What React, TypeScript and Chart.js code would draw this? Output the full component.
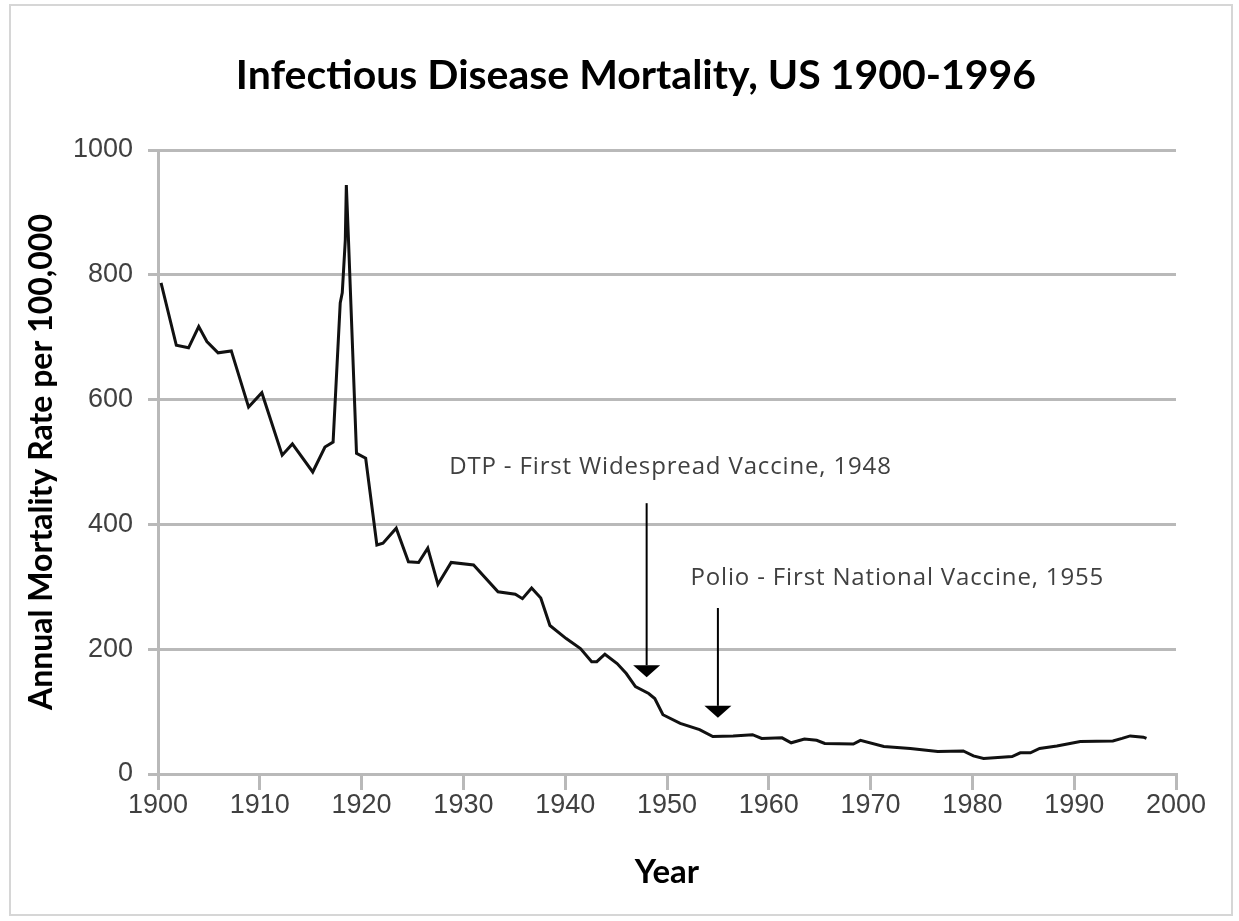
import React, { useEffect, useRef } from "react";
import { Chart, registerables } from "chart.js";

Chart.register(...registerables);

// ---- data ----
const years = [
  1900.3, 1901.8, 1903.0, 1904.0, 1904.8, 1905.9, 1907.2, 1908.9, 1910.2, 1912.2,
  1913.2, 1915.2, 1916.4, 1917.2, 1917.9, 1918.1, 1918.4, 1918.5, 1918.7, 1919.5,
  1920.4, 1921.5, 1922.1, 1923.4, 1924.6, 1925.6, 1926.5, 1927.5, 1928.8, 1931.0,
  1933.4, 1935.1, 1935.8, 1936.7, 1937.6, 1938.5, 1940.1, 1941.5, 1942.6, 1943.1,
  1943.9, 1945.1, 1946.0, 1946.9, 1948.2, 1948.8, 1949.6, 1951.3, 1953.2, 1954.5,
  1956.5, 1958.4, 1959.3, 1961.3, 1962.2, 1963.5, 1964.7, 1965.5, 1968.3, 1969.0,
  1971.3, 1973.9, 1976.6, 1979.1, 1980.1, 1981.1, 1983.9, 1984.7, 1985.7, 1986.6,
  1988.3, 1990.6, 1993.8, 1994.7, 1995.5, 1996.8, 1997.1,
];
const rates = [
  787, 687, 683, 717, 693, 675, 678, 588, 611, 511,
  529, 484, 524, 532, 755, 771, 856, 944, 861, 514,
  506, 367, 370, 394, 340, 339, 362, 304, 339, 335,
  292, 288, 281, 298, 282, 238, 217, 201, 180, 180,
  192, 177, 161, 140, 129, 121, 95, 81, 71, 60,
  61, 63, 57, 58, 50, 56, 54, 49, 48, 54,
  44, 41, 36, 37, 29, 25, 28, 34, 34, 41,
  45, 52, 53, 57, 61, 59, 57,
];

const xMin = 1900;
const xMax = 2000;
const xStep = 10;
const yMin = 0;
const yMax = 1000;
const yStep = 200;

const chartTitle = "Infectious Disease Mortality, US 1900-1996";
const xTitle = "Year";
const yTitle = "Annual Mortality Rate per 100,000";

// annotations (in data units)
const noteLabels = ["DTP - First Widespread Vaccine, 1948", "Polio - First National Vaccine, 1955"];
const noteTextYears = [1928.6, 1952.3];
const noteTextValues = [491, 314];
const arrowYears = [1948, 1955];
const arrowTopValues = [434, 266];
const arrowTipValues = [155, 90];

const GRID = "#b9b9b9";
const TICK_FONT = "'Liberation Sans', Arial, sans-serif";

const annotationPlugin = {
  id: "notes",
  beforeDraw(chart: any) {
    const ctx = chart.ctx;
    ctx.save();
    ctx.strokeStyle = "#d6d6d6";
    ctx.lineWidth = 2;
    ctx.strokeRect(10, 5, 1222, 910);
    ctx.restore();
  },
  afterDraw(chart: any) {
    const ctx = chart.ctx;
    ctx.save();
    ctx.font = "bold 41px Lato";
    ctx.fillStyle = "#000";
    ctx.textAlign = "center";
    ctx.textBaseline = "middle";
    ctx.fillText(chartTitle, 636, 76);
    ctx.restore();
  },
  afterDatasetsDraw(chart: any) {
    const ctx = chart.ctx;
    const xs = chart.scales.x;
    const ys = chart.scales.y;
    ctx.save();
    ctx.font = "24px 'Open Sans'";
    try {
      (ctx as any).letterSpacing = "0.85px";
    } catch (e) {}
    ctx.fillStyle = "#404040";
    ctx.textAlign = "left";
    ctx.textBaseline = "middle";
    noteLabels.forEach((t, i) => {
      ctx.fillText(t, xs.getPixelForValue(noteTextYears[i]), ys.getPixelForValue(noteTextValues[i]));
    });
    (ctx as any).letterSpacing = "0px";
    ctx.strokeStyle = "#000";
    ctx.fillStyle = "#000";
    ctx.lineWidth = 2;
    arrowYears.forEach((yr, i) => {
      const x = xs.getPixelForValue(yr);
      const top = ys.getPixelForValue(arrowTopValues[i]);
      const tip = ys.getPixelForValue(arrowTipValues[i]);
      const headH = 12;
      const headW = 13.5;
      ctx.beginPath();
      ctx.moveTo(x, top);
      ctx.lineTo(x, tip - headH);
      ctx.stroke();
      ctx.beginPath();
      ctx.moveTo(x - headW, tip - headH);
      ctx.lineTo(x + headW, tip - headH);
      ctx.lineTo(x, tip);
      ctx.closePath();
      ctx.fill();
    });
    ctx.restore();
  },
};

export default function App() {
  const ref = useRef<HTMLCanvasElement | null>(null);
  useEffect(() => {
    if (!ref.current) return;
    const points = years.map((x, i) => ({ x, y: rates[i] }));
    const chart = new Chart(ref.current, {
      type: "line",
      data: {
        datasets: [
          {
            data: points,
            borderColor: "#111",
            borderWidth: 3,
            pointRadius: 0,
            tension: 0,
            fill: false,
          },
        ],
      },
      options: {
        animation: false,
        responsive: false,
        maintainAspectRatio: false,
        layout: { padding: { left: 0, right: 63, top: 150, bottom: 0 } },
        plugins: {
          legend: { display: false },
          tooltip: { enabled: false },
          title: { display: false },
        },
        scales: {
          x: {
            type: "linear",
            min: xMin,
            max: xMax,
            afterFit(scale: any) {
              scale.height = 147;
            },
            ticks: {
              stepSize: xStep,
              color: "#404040",
              font: { family: TICK_FONT, size: 27, lineHeight: 1 },
              padding: 2,
              maxRotation: 0,
              callback: (v: any) => String(v),
            },
            grid: {
              drawOnChartArea: false,
              drawTicks: true,
              tickLength: 16,
              color: GRID,
              lineWidth: 3,
            },
            border: { display: true, color: GRID, width: 3 },
            title: {
              display: true,
              text: xTitle,
              color: "#000",
              font: { family: "Lato", size: 33, weight: "bold", lineHeight: 1.2 },
              padding: { top: 0, bottom: 29.2 },
            },
          },
          y: {
            min: yMin,
            max: yMax,
            afterFit(scale: any) {
              scale.width = 158;
            },
            ticks: {
              stepSize: yStep,
              color: "#404040",
              font: { family: TICK_FONT, size: 27, lineHeight: 1 },
              padding: 15,
              callback: (v: any) => String(v),
            },
            grid: {
              drawTicks: true,
              tickLength: 10,
              color: GRID,
              lineWidth: 3,
            },
            border: { display: true, color: GRID, width: 3 },
            title: {
              display: true,
              text: yTitle,
              color: "#000",
              font: { family: "Lato", size: 32, weight: "bold", lineHeight: 1.2 },
              padding: { top: 22.8, bottom: 0 },
            },
          },
        },
      },
      plugins: [annotationPlugin],
    });
    return () => chart.destroy();
  }, []);
  return (
    <div style={{ position: "absolute", left: 0, top: 0, width: 1239, height: 921, background: "#fff" }}>
      <canvas ref={ref} width={1239} height={921} style={{ display: "block" }} />
    </div>
  );
}
